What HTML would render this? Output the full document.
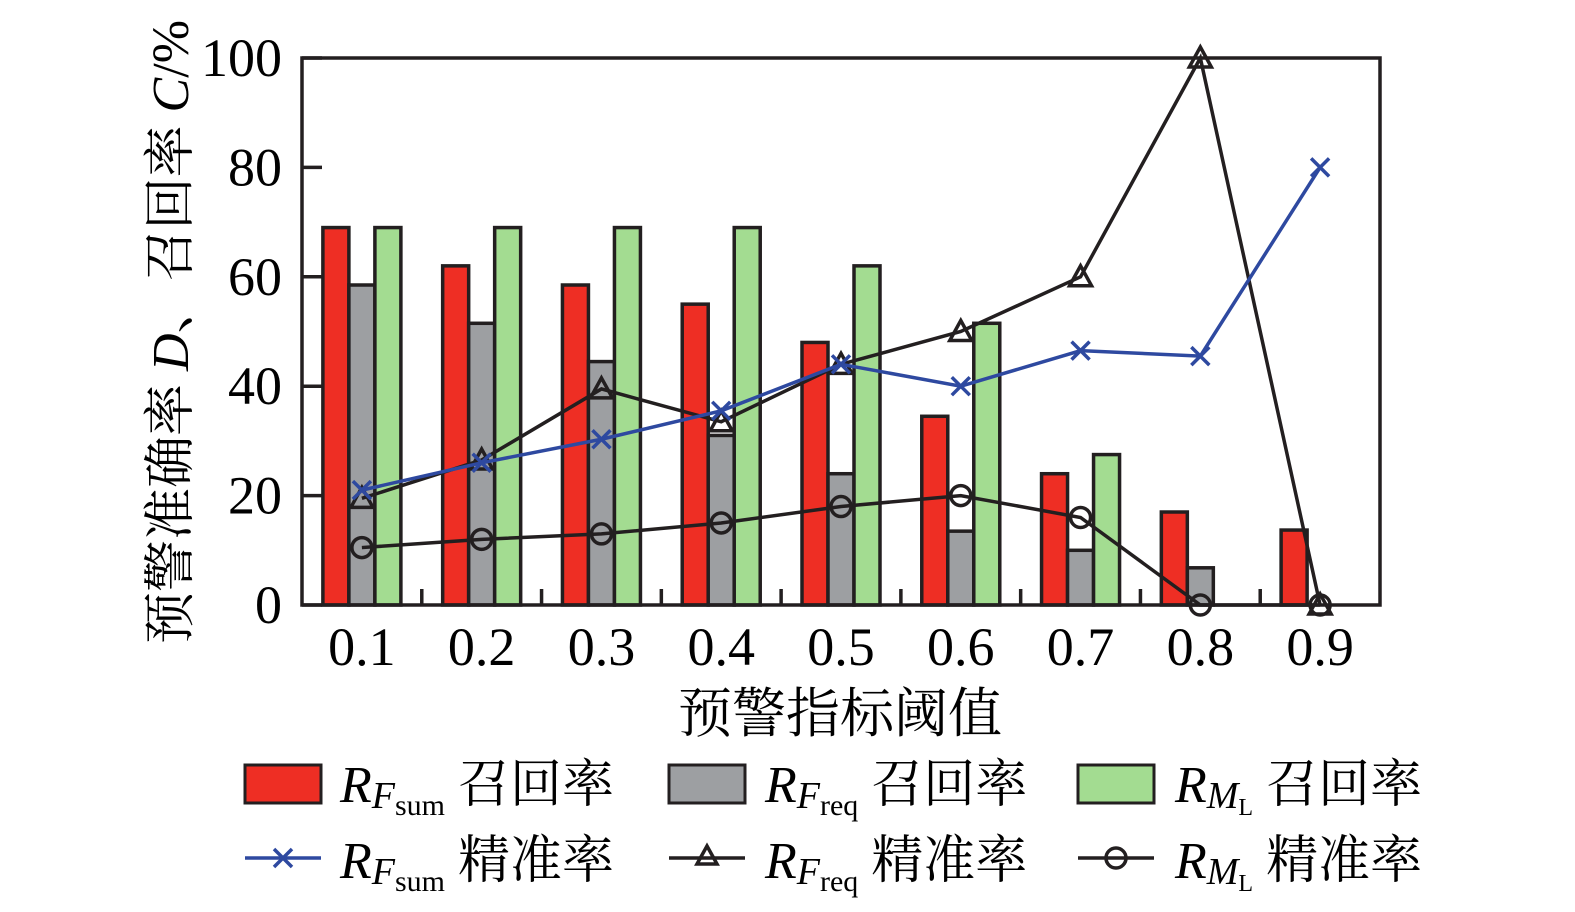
<!DOCTYPE html>
<html><head><meta charset="utf-8"><style>body{margin:0;background:#fff}svg{display:block}</style></head>
<body>
<svg id="chart" width="1575" height="912" xmlns="http://www.w3.org/2000/svg" font-family="'Liberation Serif','Noto Serif CJK SC',serif">
<g id="plot"></g>
<text transform="translate(188,332) rotate(-90)" text-anchor="middle" font-size="52">预警准确率 <tspan font-style="italic">D</tspan>、召回率 <tspan font-style="italic">C</tspan>/%</text>
<text x="840" y="732" text-anchor="middle" font-size="54">预警指标阈值</text>
<g font-size="52">
 <g><rect x="245" y="765" width="76" height="38" fill="#ee2e24" stroke="#231f20" stroke-width="3"/><text x="340" y="802"><tspan font-style="italic">R</tspan><tspan font-style="italic" font-size="38" dy="6">F</tspan><tspan font-size="30" dy="7">sum</tspan><tspan dy="-13"> 召回率</tspan></text></g>
 <g><rect x="669" y="765" width="76" height="38" fill="#9d9fa2" stroke="#231f20" stroke-width="3"/><text x="765" y="802"><tspan font-style="italic">R</tspan><tspan font-style="italic" font-size="38" dy="6">F</tspan><tspan font-size="30" dy="7">req</tspan><tspan dy="-13"> 召回率</tspan></text></g>
 <g><rect x="1078" y="765" width="76" height="38" fill="#a3dc91" stroke="#231f20" stroke-width="3"/><text x="1175" y="802"><tspan font-style="italic">R</tspan><tspan font-style="italic" font-size="38" dy="6">M</tspan><tspan font-size="24" dy="7">L</tspan><tspan dy="-13"> 召回率</tspan></text></g>
 <g><line x1="245" y1="858" x2="321" y2="858" stroke="#2e49a0" stroke-width="3.5"/><path d="M274,849 l18,18 M292,849 l-18,18" stroke="#2e49a0" stroke-width="3.5"/><text x="340" y="878"><tspan font-style="italic">R</tspan><tspan font-style="italic" font-size="38" dy="6">F</tspan><tspan font-size="30" dy="7">sum</tspan><tspan dy="-13"> 精准率</tspan></text></g>
 <g><line x1="669" y1="858" x2="745" y2="858" stroke="#231f20" stroke-width="3.5"/><path d="M707,846 l10,18 h-20 z" fill="none" stroke="#231f20" stroke-width="3.5"/><text x="765" y="878"><tspan font-style="italic">R</tspan><tspan font-style="italic" font-size="38" dy="6">F</tspan><tspan font-size="30" dy="7">req</tspan><tspan dy="-13"> 精准率</tspan></text></g>
 <g><line x1="1078" y1="858" x2="1154" y2="858" stroke="#231f20" stroke-width="3.5"/><circle cx="1116" cy="858" r="10" fill="none" stroke="#231f20" stroke-width="3.5"/><text x="1175" y="878"><tspan font-style="italic">R</tspan><tspan font-style="italic" font-size="38" dy="6">M</tspan><tspan font-size="24" dy="7">L</tspan><tspan dy="-13"> 精准率</tspan></text></g>
</g>
</svg>
<script>
const categories=["0.1","0.2","0.3","0.4","0.5","0.6","0.7","0.8","0.9"];
const recallSum=[69,62,58.5,55,48,34.5,24,17,13.7];
const recallFreq=[58.5,51.5,44.5,31,24,13.5,10,6.8,0];
const recallML=[69,69,69,69,62,51.5,27.5,0,0];
const precSum=[21,26,30.3,35.5,44,40,46.5,45.5,80];
const precFreq=[19.5,26.5,39.5,33.5,44,50,60,100,0];
const precML=[10.5,12,13,15,18,20,16,0,0];
const yTicks=[0,20,40,60,80,100];
const NS="http://www.w3.org/2000/svg";
const g=document.getElementById('plot');
const L=302,R=1380,T=58,B=605,step=(R-L)/9;
const xs=i=>L+step*(i+0.5);
const ys=v=>B-(B-T)*v/100;
function mk(t,a,p){const e=document.createElementNS(NS,t);for(const k in a)e.setAttribute(k,a[k]);(p||g).appendChild(e);return e;}
const bw=26;
[[recallSum,'#ee2e24',-1,'bar-rfsum-recall'],[recallFreq,'#9d9fa2',0,'bar-rfreq-recall'],[recallML,'#a3dc91',1,'bar-rml-recall']].forEach(([d,c,o,n])=>{
 d.forEach((v,i)=>{if(v<=0)return;const x=xs(i)+o*bw-bw/2;
  const r=mk('rect',{x:x,y:ys(v),width:bw,height:B-ys(v),fill:c,stroke:'#231f20','stroke-width':3.5});
  
  });
});
const frame=mk('rect',{x:L,y:T,width:R-L,height:B-T,fill:'none',stroke:'#231f20','stroke-width':3.5});


yTicks.forEach(v=>{
 const l=mk('line',{x1:L,x2:L+20,y1:ys(v),y2:ys(v),stroke:'#231f20','stroke-width':3.5});
 
 
 const t=mk('text',{x:282,y:ys(v)+18,'text-anchor':'end','font-size':54});
 
 
 t.textContent=v;
});
categories.forEach((c,i)=>{
 if(i<8){const l=mk('line',{x1:L+step*(i+1),x2:L+step*(i+1),y1:B,y2:B-16,stroke:'#231f20','stroke-width':3.5});
 
 }
 const t=mk('text',{x:xs(i),y:665,'text-anchor':'middle','font-size':54});
 
 
 t.textContent=c;
});
function series(d,c,marker,n){
 const pl=mk('polyline',{points:d.map((v,i)=>xs(i)+','+ys(v)).join(' '),fill:'none',stroke:c,'stroke-width':3.5});
 
 
 d.forEach((v,i)=>{const x=xs(i),y=ys(v);let m;
  if(marker==='x')m=mk('path',{d:`M${x-9},${y-9}l18,18M${x+9},${y-9}l-18,18`,stroke:c,'stroke-width':3.5});
  else if(marker==='t')m=mk('path',{d:`M${x},${y-11}l11,20h-22z`,fill:'none',stroke:c,'stroke-width':3.5});
  else m=mk('circle',{cx:x,cy:y,r:10,fill:'none',stroke:c,'stroke-width':3.5});
  
  });
}
series(precML,'#231f20','o','rml-precision');
series(precFreq,'#231f20','t','rfreq-precision');
series(precSum,'#2e49a0','x','rfsum-precision');
</script>
</body></html>
